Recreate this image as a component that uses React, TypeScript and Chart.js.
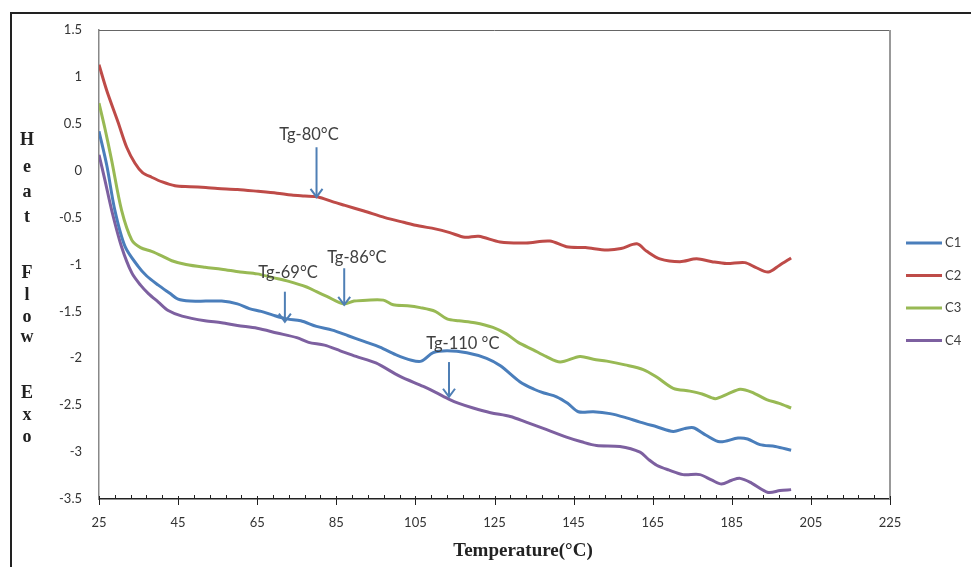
import React, { useEffect, useRef } from "react";
import { Chart, registerables } from "chart.js";

Chart.register(...registerables);

// ---------------- DATA ----------------
const seriesNames = ["C1", "C2", "C3", "C4"];
const seriesColors = ["#4a7ebb", "#be4b48", "#98b954", "#7d60a0"];

const c1Temp = [25, 27, 29, 31.6, 34.9, 37, 40, 43, 45, 48, 52, 56, 60, 63, 66, 69, 72.5, 76, 80, 84, 88, 92, 96, 100, 104, 106.5, 109.5, 113, 118, 123, 126.5, 131.4, 135, 137.5, 140.7, 143.5, 146.2, 150, 154.2, 158, 161.8, 166, 170.2, 173, 175.3, 178.5, 182, 186.6, 189, 192.1, 196, 200];
const c1Flow = [0.42, 0.05, -0.42, -0.81, -1.02, -1.12, -1.22, -1.31, -1.37, -1.39, -1.39, -1.39, -1.42, -1.47, -1.5, -1.54, -1.58, -1.6, -1.66, -1.7, -1.76, -1.82, -1.88, -1.96, -2.02, -2.03, -1.94, -1.92, -1.94, -2.0, -2.08, -2.25, -2.33, -2.37, -2.41, -2.48, -2.57, -2.57, -2.59, -2.63, -2.68, -2.73, -2.78, -2.75, -2.74, -2.82, -2.89, -2.85, -2.86, -2.92, -2.94, -2.98];

const c2Temp = [25, 27, 29.8, 32, 34.1, 36, 38.3, 41, 44.2, 48, 52, 55, 60, 65.2, 70, 73.7, 77, 80.4, 84, 87.2, 92, 97.3, 102, 106, 110, 113.7, 117.5, 121, 126.4, 133, 139, 143.2, 148, 153.4, 157, 161, 163.5, 166.8, 171.9, 176.1, 180, 183.7, 188.3, 191, 194.2, 197, 200];
const c2Flow = [1.13, 0.85, 0.52, 0.25, 0.08, -0.02, -0.07, -0.12, -0.16, -0.17, -0.18, -0.19, -0.2, -0.22, -0.24, -0.26, -0.27, -0.28, -0.33, -0.37, -0.43, -0.5, -0.55, -0.59, -0.62, -0.66, -0.71, -0.7, -0.76, -0.77, -0.75, -0.81, -0.82, -0.845, -0.83, -0.78, -0.86, -0.94, -0.97, -0.94, -0.97, -0.99, -0.98, -1.03, -1.08, -1.01, -0.93];

const c3Temp = [25, 26.5, 28.2, 30.7, 33.3, 35.5, 38.3, 41, 43.4, 47, 51.8, 56, 60.7, 65, 69, 73, 77.5, 80, 82.6, 86.8, 89.5, 92.7, 96.9, 99.4, 103, 106.2, 110, 113, 116, 120, 124.6, 128, 131, 134.8, 138, 141.6, 146.6, 150, 153.4, 158, 162.6, 166, 170.2, 174.4, 177.5, 180.8, 184, 187.1, 190, 193.8, 197, 200];
const c3Flow = [0.72, 0.45, 0.11, -0.42, -0.74, -0.82, -0.86, -0.91, -0.96, -1.0, -1.03, -1.05, -1.08, -1.1, -1.14, -1.18, -1.24, -1.29, -1.34, -1.42, -1.39, -1.38, -1.38, -1.43, -1.44, -1.46, -1.5, -1.58, -1.6, -1.62, -1.67, -1.74, -1.83, -1.91, -1.98, -2.04, -1.98, -2.01, -2.03, -2.07, -2.12, -2.2, -2.32, -2.35, -2.38, -2.43, -2.38, -2.33, -2.36, -2.44, -2.48, -2.53];

const c4Temp = [25, 26.5, 28.2, 30.7, 33.3, 35.5, 37.5, 40, 42.5, 46, 51.8, 56, 60, 65, 70, 75, 78, 82, 86, 90, 95, 101, 107, 110, 113.7, 116, 119.6, 124, 129, 133, 138.2, 143.2, 147, 150.8, 156.7, 161.8, 164, 166, 169, 172.7, 176.9, 180, 182.4, 185, 187.1, 190, 194.2, 197.2, 200];
const c4Flow = [0.17, -0.1, -0.42, -0.81, -1.09, -1.22, -1.31, -1.4, -1.49, -1.55, -1.6, -1.62, -1.65, -1.68, -1.73, -1.78, -1.83, -1.86, -1.92, -1.98, -2.05, -2.19, -2.3, -2.36, -2.44, -2.48, -2.53, -2.58, -2.62, -2.68, -2.76, -2.84, -2.89, -2.93, -2.94, -3.0, -3.08, -3.14, -3.19, -3.24, -3.24, -3.3, -3.34, -3.3, -3.28, -3.33, -3.43, -3.41, -3.4];

const seriesTemps = [c1Temp, c2Temp, c3Temp, c4Temp];
const seriesFlows = [c1Flow, c2Flow, c3Flow, c4Flow];

const xTickLabels = [25, 45, 65, 85, 105, 125, 145, 165, 185, 205, 225];
const xMinorStep = 4;
const yMin = -3.5;
const yMax = 1.5;
const yStep = 0.5;

// Tg annotations
const tgText = ["Tg-80°C", "Tg-69°C", "Tg-86°C", "Tg-110 °C"];
const tgArrowTemp = [80, 72, 87, 113.5];
const tgArrowTop = [0.25, -1.29, -1.04, -2.04];
const tgArrowTip = [-0.28, -1.61, -1.43, -2.41];
const tgLabelTemp = [78.1, 72.8, 90.2, 117];
const tgLabelFlow = [0.38, -1.09, -0.93, -1.84];

const xTitle = "Temperature(°C)";
const yTitle = "Heat Flow Exo";

// ---------------- DRAWING PLUGIN ----------------
const yTitleRows = [140, 167, 192, 217, 273, 295, 317, 337, 393, 415, 437];

const decorPlugin = {
  id: "decor",
  beforeDraw(chart: any) {
    const ctx = chart.ctx;
    ctx.save();
    ctx.fillStyle = "#ffffff";
    ctx.fillRect(0, 0, chart.width, chart.height);
    ctx.strokeStyle = "#222";
    ctx.lineWidth = 2;
    ctx.beginPath();
    ctx.moveTo(11, chart.height);
    ctx.lineTo(11, 13);
    ctx.lineTo(chart.width, 13);
    ctx.stroke();
    ctx.restore();
  },
  afterDraw(chart: any) {
    const { ctx, chartArea: ca } = chart;
    const xs = chart.scales.x;
    const ys = chart.scales.y;
    ctx.save();

    // plot border top / right
    ctx.strokeStyle = "#666";
    ctx.lineWidth = 1;
    ctx.beginPath();
    ctx.moveTo(ca.left, ca.top + 0.5);
    ctx.lineTo(ca.right, ca.top + 0.5);
    ctx.stroke();
    ctx.strokeStyle = "#999";
    ctx.lineWidth = 2;
    ctx.beginPath();
    ctx.moveTo(ca.right, ca.top);
    ctx.lineTo(ca.right, ca.bottom);
    ctx.stroke();

    // x ticks (major + minor)
    ctx.strokeStyle = "#222";
    ctx.lineWidth = 1;
    const first = xTickLabels[0];
    const last = xTickLabels[xTickLabels.length - 1];
    const majorStep = xTickLabels[1] - xTickLabels[0];
    for (let t = first; t <= last + 0.001; t += xMinorStep) {
      const px = Math.round(xs.getPixelForValue(t)) + 0.5;
      const isMajor = Math.abs((t - first) % majorStep) < 0.001;
      ctx.beginPath();
      if (isMajor) {
        ctx.moveTo(px, ca.bottom - 3);
        ctx.lineTo(px, ca.bottom + 6);
      } else {
        ctx.moveTo(px, ca.bottom - 4);
        ctx.lineTo(px, ca.bottom);
      }
      ctx.stroke();
    }

    // legend
    ctx.font = "13px Lato";
    ctx.textBaseline = "middle";
    ctx.textAlign = "left";
    seriesNames.forEach((name, i) => {
      const ly = 243 + i * 32.5;
      ctx.strokeStyle = seriesColors[i];
      ctx.lineWidth = 3;
      ctx.beginPath();
      ctx.moveTo(906, ly);
      ctx.lineTo(942, ly);
      ctx.stroke();
      ctx.fillStyle = "#404040";
      ctx.fillText(name, 945, ly);
    });

    // y title (stacked letters)
    ctx.font = "bold 18px 'Liberation Serif'";
    ctx.fillStyle = "#222";
    ctx.textAlign = "center";
    const letters = yTitle.replace(/ /g, "").split("");
    letters.forEach((ch, i) => {
      ctx.fillText(ch, 27, yTitleRows[i]);
    });

    // x title
    ctx.font = "bold 19px 'Liberation Serif'";
    ctx.fillText(xTitle, 523, 551);

    // annotations
    ctx.font = "16.5px Lato";
    ctx.fillStyle = "#404040";
    tgText.forEach((txt, i) => {
      const lx = xs.getPixelForValue(tgLabelTemp[i]);
      const lyy = ys.getPixelForValue(tgLabelFlow[i]);
      ctx.fillText(txt, lx, lyy);
      const ax = xs.getPixelForValue(tgArrowTemp[i]);
      const a1 = ys.getPixelForValue(tgArrowTop[i]);
      const a2 = ys.getPixelForValue(tgArrowTip[i]);
      ctx.strokeStyle = "#4f7fb5";
      ctx.lineWidth = 2;
      ctx.beginPath();
      ctx.moveTo(ax, a1);
      ctx.lineTo(ax, a2);
      ctx.stroke();
      ctx.beginPath();
      ctx.moveTo(ax - 6, a2 - 8);
      ctx.lineTo(ax, a2);
      ctx.lineTo(ax + 6, a2 - 8);
      ctx.stroke();
    });

    ctx.restore();
  },
};

export default function App() {
  const canvasRef = useRef<HTMLCanvasElement | null>(null);

  useEffect(() => {
    if (!canvasRef.current) return;
    const datasets = seriesNames.map((name, i) => ({
      label: name,
      data: seriesTemps[i].map((t, j) => ({ x: t, y: seriesFlows[i][j] })),
      borderColor: seriesColors[i],
      backgroundColor: seriesColors[i],
      borderWidth: 3,
      pointRadius: 0,
      tension: 0.3,
      fill: false,
    }));

    const tickFont = { family: "Lato", size: 13 };

    const chart = new Chart(canvasRef.current, {
      type: "line",
      data: { datasets },
      plugins: [decorPlugin],
      options: {
        animation: false,
        responsive: false,
        layout: { padding: { left: 0, top: 30, right: 81, bottom: 0 } },
        plugins: {
          legend: { display: false },
          tooltip: { enabled: false },
          title: { display: false },
        },
        scales: {
          x: {
            type: "linear",
            min: xTickLabels[0],
            max: xTickLabels[xTickLabels.length - 1],
            afterBuildTicks: (s: any) => {
              s.ticks = xTickLabels.map((v) => ({ value: v }));
            },
            afterFit: (s: any) => {
              s.height = 68;
            },
            ticks: {
              font: tickFont,
              color: "#333",
              padding: 16,
              maxRotation: 0,
              autoSkip: false,
              callback: (v: any) => String(v),
            },
            grid: { display: true, drawOnChartArea: false, drawTicks: false },
            border: { display: true, color: "#222", width: 1.5 },
          },
          y: {
            type: "linear",
            min: yMin,
            max: yMax,
            afterFit: (s: any) => {
              s.width = 99;
            },
            ticks: {
              stepSize: yStep,
              font: tickFont,
              color: "#333",
              padding: 17,
              callback: (v: any) => String(Math.round(Number(v) * 10) / 10),
            },
            grid: { display: true, drawOnChartArea: false, drawTicks: false },
            border: { display: true, color: "#888", width: 1.5 },
          },
        },
      },
    } as any);

    return () => chart.destroy();
  }, []);

  return (
    <div style={{ position: "fixed", left: 0, top: 0, width: 971, height: 567 }}>
      <canvas ref={canvasRef} width={971} height={567} style={{ display: "block" }} />
    </div>
  );
}
